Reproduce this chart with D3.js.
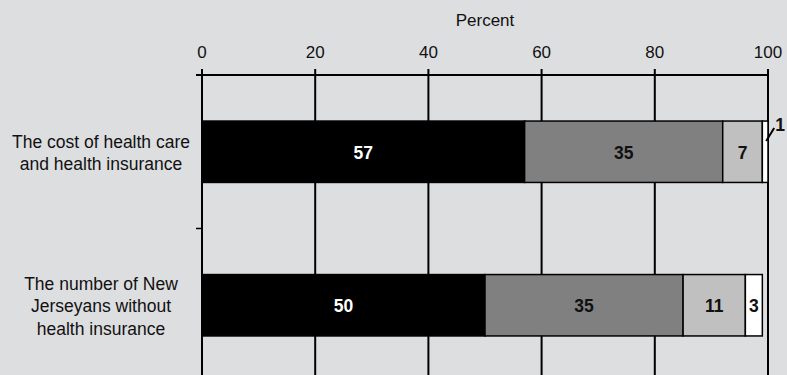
<!DOCTYPE html>
<html><head><meta charset="utf-8">
<script src="https://cdn.jsdelivr.net/npm/d3@7"></script>
<style>body{margin:0;background:#dddee0;} svg{display:block;font-family:"Liberation Sans",Arial,sans-serif;}</style>
</head><body>
<svg id="c" width="787" height="375"></svg>
<script>
const categories = [
  ["The cost of health care", "and health insurance"],
  ["The number of New", "Jerseyans without", "health insurance"]
];
const seriesNames = ["s1", "s2", "s3", "s4"];
const seriesColors = ["#000000", "#808080", "#c0c0c0", "#ffffff"];
const values = [
  [57, 35, 7, 1],
  [50, 35, 11, 3]
];
const xTicks = [0, 20, 40, 60, 80, 100];
const axisTitle = "Percent";

const svg = d3.select("#c");
const W = 787, H = 375;
svg.append("rect").attr("width", W).attr("height", H).attr("fill", "#dddee0");

const x = d3.scaleLinear().domain([0, 100]).range([202, 768]);
const y = d3.scaleBand().domain(d3.range(categories.length)).range([75, 382]).paddingInner(0.6).paddingOuter(0.3);

// gridlines
svg.append("g").selectAll("line").data(xTicks).join("line")
  .attr("x1", d => x(d)).attr("x2", d => x(d))
  .attr("y1", 69).attr("y2", H)
  .attr("stroke", "#000").attr("stroke-width", 2);

// top axis line
svg.append("line").attr("x1", x(0) - 6).attr("x2", x(100)).attr("y1", 75).attr("y2", 75)
  .attr("stroke", "#000").attr("stroke-width", 2);

// tick labels
svg.append("g").selectAll("text").data(xTicks).join("text")
  .attr("x", d => x(d)).attr("y", 57.5).attr("text-anchor", "middle")
  .attr("font-size", 17).attr("fill", "#111").text(d => d);
svg.append("text").attr("x", (x(0) + x(100)) / 2).attr("y", 26).attr("text-anchor", "middle")
  .attr("font-size", 17).attr("fill", "#111").text(axisTitle);

// left category boundary tick
const step = y.step();
const boundaries = d3.range(1, categories.length).map(i => y(i) - y.paddingInner() * step / 2);
svg.append("g").selectAll("line").data(boundaries).join("line")
  .attr("x1", x(0) - 6).attr("x2", x(0)).attr("y1", d => d).attr("y2", d => d)
  .attr("stroke", "#000").attr("stroke-width", 1.5);

// bars
values.forEach((row, i) => {
  let cum = 0;
  const g = svg.append("g");
  const bw = y.bandwidth();
  const y0 = y(i);
  row.forEach((v, j) => {
    const x0 = x(cum), x1 = x(cum + v);
    g.append("rect").attr("x", x0).attr("y", y0).attr("width", x1 - x0).attr("height", bw)
      .attr("fill", seriesColors[j]).attr("stroke", "#000").attr("stroke-width", 1.5);
    const cx = (x0 + x1) / 2;
    const col = j === 0 ? "#fff" : "#111";
    if (v >= 3) {
      g.append("text").attr("x", cx).attr("y", y0 + bw / 2 + 7).attr("text-anchor", "middle")
        .attr("font-size", 17.5).attr("font-weight", "bold").attr("fill", col).text(v);
    } else {
      g.append("line").attr("x1", cx + 1).attr("y1", y0 + 20).attr("x2", cx + 9).attr("y2", y0 + 7)
        .attr("stroke", "#000").attr("stroke-width", 2);
      g.append("text").attr("x", cx + 10).attr("y", y0 + 10).attr("text-anchor", "start")
        .attr("font-size", 17.5).attr("font-weight", "bold").attr("fill", "#111").text(v);
    }
    cum += v;
  });
  // category label
  const lines = categories[i];
  const lh = 22.5;
  const cy = y0 + bw / 2;
  const t = svg.append("text").attr("text-anchor", "middle").attr("font-size", 17.5).attr("fill", "#111");
  lines.forEach((ln, k) => {
    t.append("tspan").attr("x", 101).attr("y", cy + 7 + (k - (lines.length - 1) / 2) * lh).text(ln);
  });
});

// left axis line (over bars)
svg.append("line").attr("x1", x(0)).attr("x2", x(0)).attr("y1", 69).attr("y2", H)
  .attr("stroke", "#000").attr("stroke-width", 2);
</script>
</body></html>
